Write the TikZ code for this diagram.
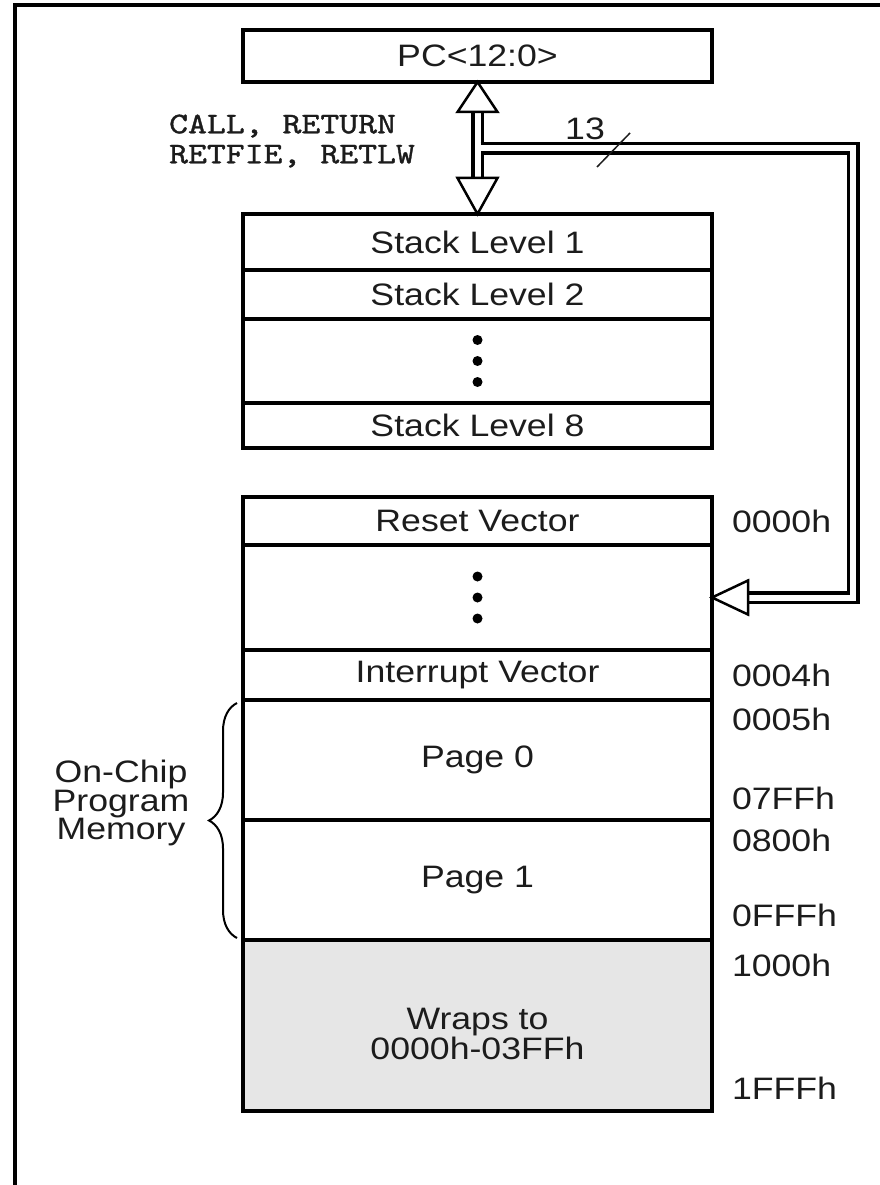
\documentclass[tikz,border=0pt]{standalone}
\usepackage{fontspec}
\setmainfont{Liberation Sans}[FakeStretch=1.15]
\newfontfamily\courfont{lmmono10-regular.otf}[FakeStretch=1.2, FakeBold=1.2]
\usetikzlibrary{positioning, calc, decorations.pathreplacing}
\definecolor{cink}{HTML}{1C1C1C}
\definecolor{cwrap}{HTML}{E6E6E6}
\newcommand{\lblsize}{\fontsize{31}{30}\selectfont}
\tikzset{
  every picture/.style={line width=4pt},
  cell/.style={draw=black, line width=4pt, minimum width=469pt, outer sep=0pt, inner sep=0pt, text=cink, font=\lblsize, align=center},
  lbl/.style={inner sep=0pt, text=cink, font=\lblsize},
  addr/.style={lbl, anchor=west},
  bus/.style={draw=black, line width=3.5pt, double=white, double distance=6pt},
  head/.style={draw=black, fill=white, line width=2.5pt, line join=miter},
}

\begin{document}
\begin{tikzpicture}[x=1pt, y=-1pt]
  \useasboundingbox (0,0) rectangle (880,1185);
  \draw[line width=4pt] (15,1200) |- (900,5);
  % program counter
  \node[cell, minimum height=52] (pc) at (477.5,56) {PC<12:0>};
  % hardware stack
  \node[cell, minimum height=56] (lvl1) at (477.5,242) {Stack Level 1};
  \node[cell, minimum height=49, below=0pt of lvl1] (lvl2) {Stack Level 2};
  \node[cell, minimum height=84, below=0pt of lvl2] (lvlx) {};
  \node[cell, minimum height=45, below=0pt of lvlx] (lvl8) {Stack Level 8};
  \foreach \d in {-21,0,21} \fill ([yshift=\d pt]lvlx.center) circle (5pt);
  % program memory
  \node[cell, minimum height=48] (reset) at (477.5,521) {Reset Vector};
  \node[cell, minimum height=105, below=0pt of reset] (gap) {};
  \node[cell, minimum height=50, below=0pt of gap] (intv) {Interrupt Vector};
  \node[cell, minimum height=120, below=0pt of intv] (page0) {Page 0};
  \node[cell, minimum height=120, below=0pt of page0] (page1) {Page 1};
  \node[cell, minimum height=171, below=0pt of page1, fill=cwrap] (wrap) {};
  \node[lbl, align=center] (wraptxt) at ([yshift=-8pt]wrap.center) {Wraps to\\0000h-03FFh};
  \foreach \d in {-21,0,21} \fill ([yshift=\d pt]gap.center) circle (5pt);
  % call / return path
  \draw[bus] ([yshift=-31pt]pc.south) -- ([yshift=37pt]lvl1.north);
  \draw[head] (pc.south) -- ++(-20,30) -- ++(40,0) -- cycle;
  \draw[head] (lvl1.north) -- ++(-20,-36) -- ++(40,0) -- cycle;
  \node[font=\courfont\fontsize{30}{30}\selectfont, align=left, text=cink, inner sep=0pt] (ops) at (292,141) {CALL, RETURN\\RETFIE, RETLW};
  % 13-bit branch into program memory
  \coordinate (tap) at (480.5,148.5);
  \coordinate (rise) at (853,148.5);
  \draw[bus] (tap) -- (rise) |- ([xshift=36pt]gap.east);
  \draw[head] (gap.east) -- ++(36,-17) -- ++(0,34) -- cycle;
  \node[lbl] (nbits) at (585,129) {13};
  \draw[line width=1.5pt, draw=cink] (597,167) -- (630,133);
  % addresses
  \node[addr] (a0000) at ([xshift=18pt]reset.east) {0000h};
  \node[addr] (a0004) at ([xshift=18pt]intv.east) {0004h};
  \node[addr] (a0005) at ([xshift=18pt,yshift=-19pt]page0.north east) {0005h};
  \node[addr] (a07ff) at ([xshift=18pt,yshift=22pt]page0.south east) {07FFh};
  \node[addr] (a0800) at ([xshift=18pt,yshift=-20pt]page1.north east) {0800h};
  \node[addr] (a0fff) at ([xshift=18pt,yshift=25pt]page1.south east) {0FFFh};
  \node[addr] (a1000) at ([xshift=18pt,yshift=-25pt]wrap.north east) {1000h};
  \node[addr] (a1fff) at ([xshift=18pt,yshift=23pt]wrap.south east) {1FFFh};
  % on-chip bracket
  \draw[decorate, decoration={brace, amplitude=28pt}, line width=2pt] ([xshift=-6pt,yshift=2pt]page1.south west) -- ([xshift=-6pt,yshift=-3pt]page0.north west);
  \node[lbl, align=center, font=\fontsize{31}{27}\selectfont] (onchip) at (121,803) {On-Chip\\Program\\Memory};
\end{tikzpicture}
\end{document}
